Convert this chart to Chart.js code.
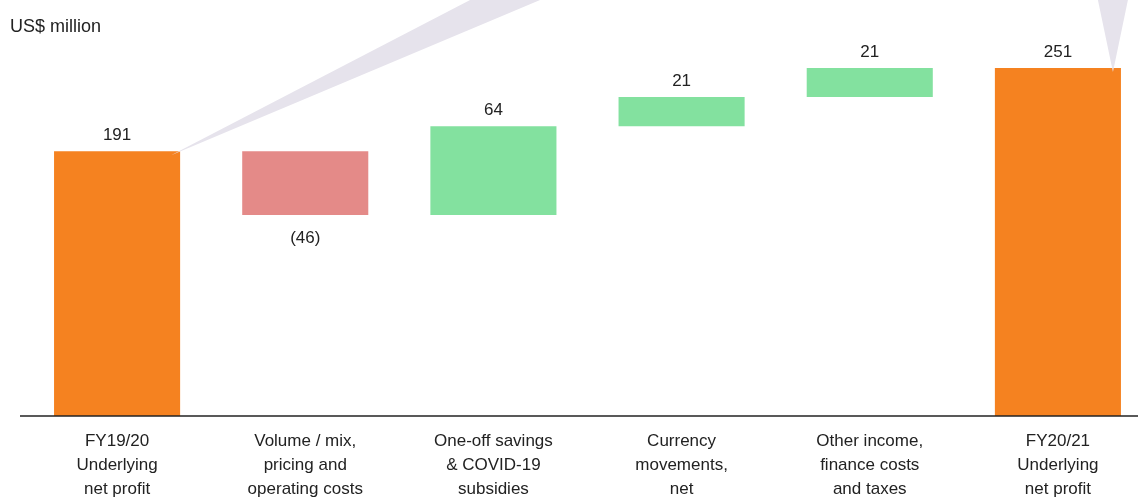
<!DOCTYPE html>
<html>
<head>
<meta charset="utf-8">
<script src="https://cdn.jsdelivr.net/npm/chart.js@4/dist/chart.umd.min.js"></script>
<style>
  html, body { margin: 0; padding: 0; background: #fff; overflow: hidden; }
  #wrap { position: relative; width: 1152px; height: 499px; }
</style>
</head>
<body>
<div id="wrap"><canvas id="bridge"></canvas></div>
<script>
// bridge of underlying net profit, US$ million
const categories = [
  ['FY19/20', 'Underlying', 'net profit'],
  ['Volume / mix,', 'pricing and', 'operating costs'],
  ['One-off savings', '& COVID-19', 'subsidies'],
  ['Currency', 'movements,', 'net'],
  ['Other income,', 'finance costs', 'and taxes'],
  ['FY20/21', 'Underlying', 'net profit']
];
const values = [191, -46, 64, 21, 21, 251];
const kinds = ['total', 'step', 'step', 'step', 'step', 'total'];
const valueLabels = ['191', '(46)', '64', '21', '21', '251'];

const ORANGE = '#F58220';
const RED = '#E48A88';
const GREEN = '#83E19F';
const CALLOUT = '#E6E3EC';

// floating bars: totals start at 0, steps start at running total
let running = 0;
const ranges = values.map((v, i) => {
  if (kinds[i] === 'total') { running = v; return [0, v]; }
  const start = running;
  running += v;
  return [start, running];
});
const colors = values.map((v, i) => kinds[i] === 'total' ? ORANGE : (v < 0 ? RED : GREEN));

const decorations = {
  id: 'decorations',
  afterDatasetsDraw(chart) {
    const { ctx, scales: { x, y } } = chart;
    const meta = chart.getDatasetMeta(0);

    // callout wedges pointing at the two totals
    const first = meta.data[0], last = meta.data[meta.data.length - 1];
    ctx.save();
    ctx.fillStyle = CALLOUT;
    ctx.beginPath();
    ctx.moveTo(first.x + first.width / 2 - 9, y.getPixelForValue(ranges[0][1]) + 4);
    ctx.lineTo(first.x + 353, 0);
    ctx.lineTo(first.x + 423, 0);
    ctx.closePath();
    ctx.fill();
    ctx.beginPath();
    ctx.moveTo(last.x + last.width / 2 - 8, y.getPixelForValue(ranges[5][1]) + 4);
    ctx.lineTo(last.x + 40, 0);
    ctx.lineTo(last.x + 70, 0);
    ctx.closePath();
    ctx.fill();

    // value labels
    ctx.fillStyle = '#222';
    ctx.font = '17px "Liberation Sans", Arial, sans-serif';
    ctx.textAlign = 'center';
    ctx.textBaseline = 'middle';
    meta.data.forEach((bar, i) => {
      const top = y.getPixelForValue(Math.max(...ranges[i]));
      const bottom = y.getPixelForValue(Math.min(...ranges[i]));
      if (values[i] < 0) ctx.fillText(valueLabels[i], bar.x, bottom + 23);
      else ctx.fillText(valueLabels[i], bar.x, top - 16);
    });

    // unit label
    ctx.textAlign = 'left';
    ctx.font = '18px "Liberation Sans", Arial, sans-serif';
    ctx.fillText('US$ million', 10, 27);

    // baseline
    ctx.strokeStyle = '#222';
    ctx.lineWidth = 1.5;
    ctx.beginPath();
    ctx.moveTo(20, y.getPixelForValue(0));
    ctx.lineTo(chart.width, y.getPixelForValue(0));
    ctx.stroke();
    ctx.restore();
  }
};

new Chart(document.getElementById('bridge'), {
  type: 'bar',
  data: {
    labels: categories,
    datasets: [{
      data: ranges,
      backgroundColor: colors,
      borderWidth: 0,
      categoryPercentage: 1,
      barPercentage: 0.67
    }]
  },
  options: {
    responsive: true,
    maintainAspectRatio: false,
    animation: false,
    layout: { padding: { left: 23, right: 0, top: 0, bottom: 0 } },
    plugins: { legend: { display: false }, tooltip: { enabled: false } },
    scales: {
      x: {
        grid: { display: false, drawTicks: false },
        border: { display: false },
        ticks: {
          padding: 13,
          color: '#222',
          font: { family: '"Liberation Sans", Arial, sans-serif', size: 17, lineHeight: 24 / 17 },
          maxRotation: 0,
          autoSkip: false
        },
        afterFit(scale) { scale.height = 83; }
      },
      y: {
        display: false,
        min: 0,
        max: 300
      }
    }
  },
  plugins: [decorations]
});
</script>
</body>
</html>
